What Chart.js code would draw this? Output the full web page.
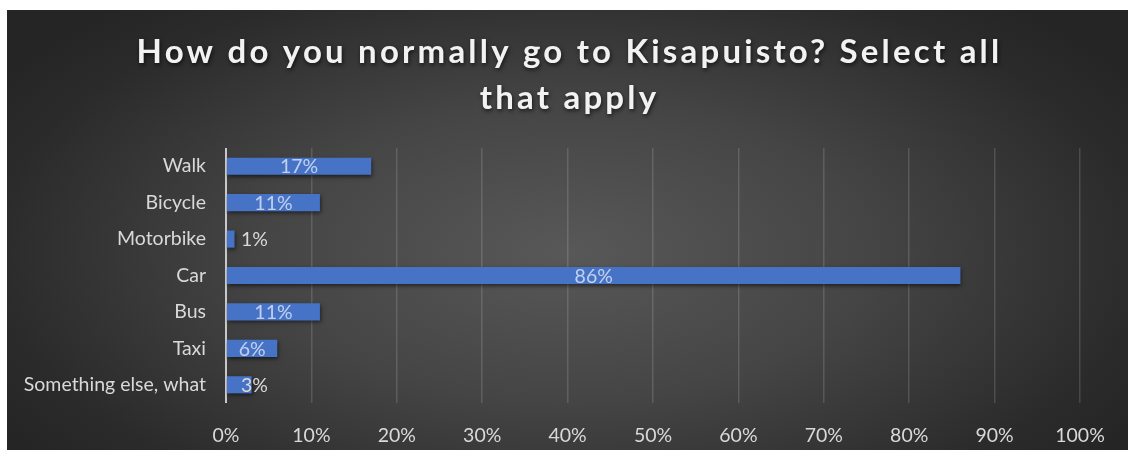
<!DOCTYPE html>
<html lang="en">
<head>
<meta charset="UTF-8">
<script src="https://cdn.jsdelivr.net/npm/chart.js"></script>
<style>
  html, body {
    margin: 0;
    padding: 0;
    background: #ffffff;
    width: 1128px;
    height: 450px;
    overflow: hidden;
  }
  #chartContainer {
    position: absolute;
    left: 7px;
    top: 10px;
    width: 1121px;
    height: 440px;
    background: radial-gradient(ellipse 60% 75% at 50% 55%, #585858 0%, #454545 45%, #2b2b2b 85%, #252525 100%);
  }
</style>
</head>
<body>
<div id="chartContainer">
  <canvas id="travelChart" width="1121" height="440"></canvas>
</div>
<script>
// Survey answers (percent of respondents)
const titleLines = ['How do you normally go to Kisapuisto? Select all', 'that apply'];
const categories = ['Walk', 'Bicycle', 'Motorbike', 'Car', 'Bus', 'Taxi', 'Something else, what'];
const shares = [17, 11, 1, 86, 11, 6, 3];
const xTicks = [0, 10, 20, 30, 40, 50, 60, 70, 80, 90, 100];

const textColor = '#d9d9d9';
const barColor = '#4673c6';
const labelFont = '19.5px Lato';

// Title drawn by hand so it can get letter spacing and a soft shadow
const titlePlugin = {
  id: 'spacedTitle',
  afterDraw(chart) {
    const ctx = chart.ctx;
    ctx.save();
    ctx.font = 'bold 33px Lato';
    ctx.letterSpacing = '3.2px';
    ctx.fillStyle = '#f2f2f2';
    ctx.textAlign = 'center';
    ctx.textBaseline = 'middle';
    ctx.shadowColor = 'rgba(0,0,0,0.65)';
    ctx.shadowBlur = 4;
    ctx.shadowOffsetX = 1;
    ctx.shadowOffsetY = 2;
    titleLines.forEach((line, i) => {
      ctx.fillText(line, chart.width / 2 + 2, 42 + i * 46);
    });
    ctx.restore();
  }
};

// Drop shadow under the bars
const barShadow = {
  id: 'barShadow',
  beforeDatasetDraw(chart) {
    const ctx = chart.ctx;
    ctx.save();
    ctx.shadowColor = 'rgba(0,0,0,0.55)';
    ctx.shadowBlur = 4;
    ctx.shadowOffsetX = 1;
    ctx.shadowOffsetY = 2;
  },
  afterDatasetDraw(chart) {
    chart.ctx.restore();
  }
};

// Value labels: centred inside the bar, or just right of the axis when the bar is too short
const valueLabels = {
  id: 'valueLabels',
  afterDatasetsDraw(chart) {
    const ctx = chart.ctx;
    const meta = chart.getDatasetMeta(0);
    ctx.save();
    ctx.font = labelFont;
    ctx.textBaseline = 'middle';
    meta.data.forEach((bar, i) => {
      const text = shares[i] + '%';
      const w = ctx.measureText(text).width;
      const len = bar.x - bar.base;
      if (len >= w + 6) {
        ctx.textAlign = 'center';
        ctx.fillStyle = 'rgba(215,225,245,0.85)';
        ctx.fillText(text, (bar.x + bar.base) / 2, bar.y + 1);
      } else {
        ctx.textAlign = 'left';
        ctx.fillStyle = textColor;
        ctx.fillText(text, bar.base + 14, bar.y + 1);
      }
    });
    ctx.restore();
  }
};

new Chart(document.getElementById('travelChart'), {
  type: 'bar',
  data: {
    labels: categories,
    datasets: [{
      data: shares,
      backgroundColor: barColor,
      borderWidth: 0,
      categoryPercentage: 1,
      barPercentage: 0.47
    }]
  },
  options: {
    indexAxis: 'y',
    responsive: false,
    animation: false,
    layout: { padding: { top: 138, right: 48, left: 0, bottom: 0 } },
    plugins: {
      legend: { display: false },
      title: { display: false },
      tooltip: { enabled: false }
    },
    scales: {
      x: {
        min: 0,
        max: 100,
        afterBuildTicks(scale) {
          scale.ticks = xTicks.map(v => ({ value: v }));
        },
        afterFit(scale) { scale.height = 47; },
        border: { display: false },
        grid: {
          drawTicks: false,
          lineWidth: ctx => (ctx.tick && ctx.tick.value === 0 ? 2 : 1.5),
          color: ctx => (ctx.tick && ctx.tick.value === 0 ? '#c8c8c8' : 'rgba(255,255,255,0.14)')
        },
        ticks: {
          color: textColor,
          font: { family: 'Lato', size: 19.5 },
          padding: 21,
          callback: v => v + '%'
        }
      },
      y: {
        afterFit(scale) { scale.width = 219; },
        border: { display: false },
        grid: { display: false, drawTicks: false },
        ticks: {
          color: textColor,
          font: { family: 'Lato', size: 19.5 },
          padding: 20
        }
      }
    }
  },
  plugins: [barShadow, valueLabels, titlePlugin]
});
</script>
</body>
</html>
